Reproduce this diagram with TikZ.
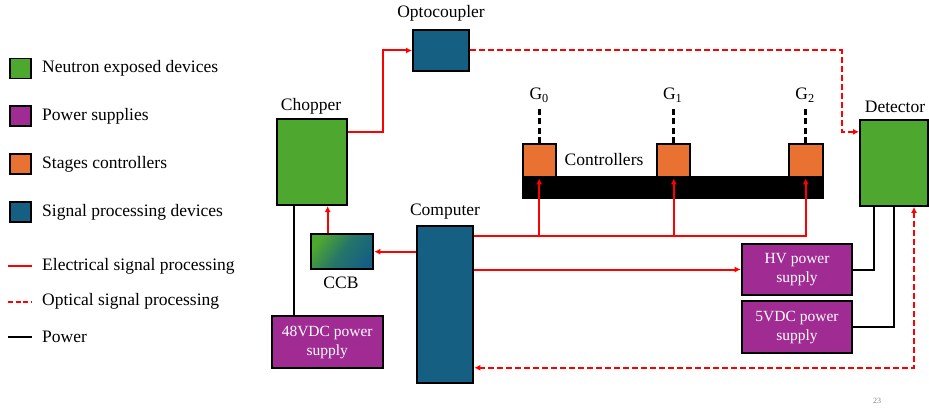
\documentclass[tikz,border=0pt]{standalone}
\usepackage{fontspec}
\setmainfont{Liberation Serif}
\usetikzlibrary{arrows.meta,calc}
\definecolor{neutgreen}{HTML}{4EA72E}
\definecolor{pspurple}{HTML}{A02B93}
\definecolor{ctorange}{HTML}{E97132}
\definecolor{sigblue}{HTML}{156082}
\tikzset{
  box/.style={draw=black,line width=2pt,rectangle,inner sep=0pt},
  greenbox/.style={box,fill=neutgreen},
  purplebox/.style={box,fill=pspurple,text=white,align=center,font=\fontsize{15.5}{19}\selectfont},
  orangebox/.style={box,fill=ctorange},
  bluebox/.style={box,fill=sigblue},
  lbl/.style={font=\fontsize{17.5}{21}\selectfont,inner sep=0pt},
  elec/.style={draw=red,line width=2pt},
  opt/.style={draw=red,line width=2pt,dash pattern=on 6pt off 3pt},
  pow/.style={draw=black,line width=2pt},
  tip/.style={-{Latex[length=6pt,width=6pt]}},
  gdash/.style={draw=black,line width=3pt,dash pattern=on 6pt off 3.5pt},
  legsq/.style={box,line width=1.3pt,minimum width=21pt,minimum height=20pt},
}
\begin{document}
\begin{tikzpicture}[x=1pt,y=-1pt]
\useasboundingbox (0,0) rectangle (929,409);
% legend
\node[legsq,fill=neutgreen] (lg1) at (20.5,68.5) {};
\node[legsq,fill=pspurple] (lg2) at (20.5,116) {};
\node[legsq,fill=ctorange] (lg3) at (20.5,164) {};
\node[legsq,fill=sigblue] (lg4) at (20.5,212) {};
\node[lbl,anchor=west] (lt1) at (42,68.5) {Neutron exposed devices};
\node[lbl,anchor=west] (lt2) at (42,116) {Power supplies};
\node[lbl,anchor=west] (lt3) at (42,164) {Stages controllers};
\node[lbl,anchor=west] (lt4) at (42,212) {Signal processing devices};
\coordinate (la1) at (8,266); \coordinate (lb1) at (32,266);
\coordinate (la2) at (8,301.5); \coordinate (lb2) at (32,301.5);
\coordinate (la3) at (8,337); \coordinate (lb3) at (32,337);
\draw[elec] (la1) -- (lb1);
\draw[opt,dash pattern=on 5pt off 2.5pt] (la2) -- (lb2);
\draw[pow] (la3) -- (lb3);
\node[lbl,anchor=west] (lt5) at (42,266) {Electrical signal processing};
\node[lbl,anchor=west] (lt6) at (42,301.5) {Optical signal processing};
\node[lbl,anchor=west] (lt7) at (42,337) {Power};
% main boxes
\node[greenbox,minimum width=70pt,minimum height=85.7pt] (chopper) at (311.7,162.2) {};
\node[lbl] (chopperl) at (311,106) {Chopper};
\node[bluebox,minimum width=56pt,minimum height=41pt] (opto) at (441,50.5) {};
\node[lbl] (optol) at (441,13) {Optocoupler};
\node[greenbox,minimum width=68pt,minimum height=85.7pt] (det) at (894,163) {};
\node[lbl] (detl) at (895,107) {Detector};
\node[box,fill=black,minimum width=300pt,minimum height=21pt] (bar) at (672.5,187.8) {};
\node[orangebox,minimum width=33pt,minimum height=33.3pt] (g0) at (539.2,160.7) {};
\node[orangebox,minimum width=33pt,minimum height=33.3pt] (g1) at (673.8,160.7) {};
\node[orangebox,minimum width=34pt,minimum height=33.3pt] (g2) at (805.7,160.7) {};
\node[lbl] (ctrll) at (604,160) {Controllers};
\node[lbl] (g0l) at (539.2,95) {G\textsubscript{0}};
\node[lbl] (g1l) at (672.7,95) {G\textsubscript{1}};
\node[lbl] (g2l) at (805,95) {G\textsubscript{2}};
\draw[gdash] (g0.north) -- ([yshift=-3pt]g0l.south -| g0.north);
\draw[gdash] (g1.north) -- ([yshift=-3pt]g1l.south -| g1.north);
\draw[gdash] (g2.north) -- ([yshift=-3pt]g2l.south -| g2.north);
\node[bluebox,minimum width=56pt,minimum height=156.7pt] (comp) at (445.3,304.4) {};
\node[lbl] (compl) at (445,212) {Computer};
\node[box,top color=neutgreen,bottom color=sigblue,middle color=sigblue!70!neutgreen,shading angle=55,minimum width=62.6pt,minimum height=35.3pt] (ccb) at (342,251.7) {};
\node[lbl] (ccbl) at (341,283) {CCB};
\node[purplebox,minimum width=111pt,minimum height=52.3pt] (p48) at (327.2,342.2) {48VDC power\\supply};
\node[purplebox,minimum width=110.6pt,minimum height=51pt] (hv) at (797,269.5) {HV power\\supply};
\node[purplebox,minimum width=110.6pt,minimum height=52.3pt] (p5) at (797,327.2) {5VDC power\\supply};
% connectors
\draw[elec,tip] ([yshift=-14pt]chopper.north east) -- ++(35.6,0) |- (opto.west);
\draw[opt,tip] (opto.east) -- (841.7,50.5) |- ([yshift=-12.7pt]det.north west);
\coordinate (bus) at ([yshift=-11.3pt]comp.north east);
\draw[elec,tip] (bus) -| (g2.south);
\draw[elec,tip] (bus -| g0.south) -- (g0.south);
\draw[elec,tip] (bus -| g1.south) -- (g1.south);
\draw[elec,tip] (comp.west |- ccb.east) -- (ccb.east);
\draw[elec,tip] ([xshift=-14.3pt]ccb.north) -- ([xshift=-14.3pt]ccb.north |- chopper.south);
\draw[pow] ([xshift=-17.4pt]chopper.south) -- ([xshift=-17.4pt]chopper.south |- p48.north);
\draw[elec,tip] (comp.east |- hv.west) -- (hv.west);
\draw[pow] (hv.east) -| ([xshift=-19.7pt]det.south);
\draw[pow] (p5.east) -| (det.south);
\draw[opt,{Latex[length=6pt,width=6pt]}-{Latex[length=6pt,width=6pt]}] ([xshift=20pt]det.south) |- ([yshift=16pt]comp.south east);
\node[font=\fontsize{8}{9}\selectfont,text=gray] (pg) at (877,401) {23};
\end{tikzpicture}
\end{document}
